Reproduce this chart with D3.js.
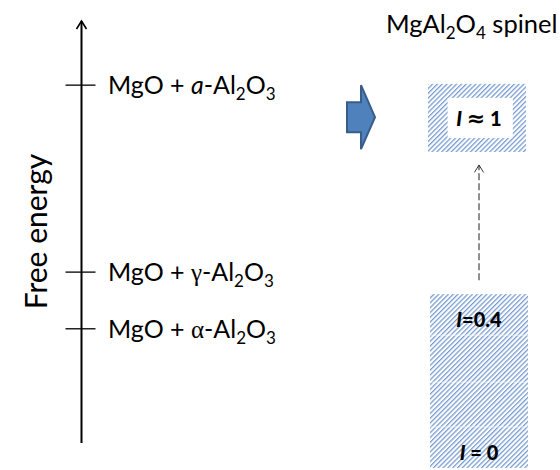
<!DOCTYPE html>
<html><head><meta charset="utf-8">
<script src="https://cdn.jsdelivr.net/npm/d3@7"></script>
<style>body{margin:0;background:#fff} text{font-family:Lato,'Open Sans',sans-serif;fill:#000}</style>
</head><body><svg id="c" width="560" height="470"></svg>
<script>
// ---- data ----
const axisTitle = "Free energy";
const levelPrefix = ["MgO + ", "MgO + ", "MgO + "];
const levelGreek = ["a", "γ", "α"];
const levelGreekItalic = [true, false, false];
const levelEnergy = [84.6, 40.4, 27.0];          // relative free energy of each phase mix
const spinelTitle = ["MgAl", "2", "O", "4", " spinel"];
const spinelLowBounds = [35.2, 25.5, 14.4, 3.8, -5.9]; // stacked segments of the low-inversion band
const spinelHighOuter = [84.9, 68.8];             // I ≈ 1 band
const spinelHighInner = [81.6, 72.1];
const inversionLabels = ["I=0.4", "I = 0", "I ≈ 1"];
const inversionEnergy = [29.3, -2.1, 76.8];
const transitionFrom = 38.5, transitionTo = 65.7;

// ---- scales ----
const svg = d3.select("#c");
const y = d3.scaleLinear().domain([0, 100]).range([443, 20]);
const x = d3.scaleLinear().domain([0, 1]).range([430, 528]); // spinel column
const axisX = 81.5;

const defs = svg.append("defs");
const pat = defs.append("pattern").attr("id", "hatch").attr("patternUnits", "userSpaceOnUse")
  .attr("width", 3.4).attr("height", 10).attr("patternTransform", "rotate(45)");
pat.append("line").attr("x1", 1.5).attr("x2", 1.5).attr("y1", 0).attr("y2", 10)
  .attr("stroke", "#6d95cd").attr("stroke-width", 1.2);
defs.append("marker").attr("id", "openArrow").attr("viewBox", "0 0 12 12").attr("refX", 10).attr("refY", 6)
  .attr("markerWidth", 12).attr("markerHeight", 12).attr("markerUnits", "userSpaceOnUse").attr("orient", "auto")
  .append("path").attr("d", "M2,1 L10,6 L2,11").attr("fill", "none").attr("stroke", "#000").attr("stroke-width", 1.6);
defs.append("marker").attr("id", "openArrowS").attr("viewBox", "0 0 12 12").attr("refX", 10).attr("refY", 6)
  .attr("markerWidth", 11).attr("markerHeight", 11).attr("markerUnits", "userSpaceOnUse").attr("orient", "auto")
  .append("path").attr("d", "M2,1 L10,6 L2,11").attr("fill", "none").attr("stroke", "#222").attr("stroke-width", 1);

// ---- energy axis ----
svg.append("line").attr("x1", axisX).attr("x2", axisX).attr("y1", y(0)).attr("y2", y(100) + 1)
  .attr("stroke", "#000").attr("stroke-width", 2).attr("marker-end", "url(#openArrow)");
svg.append("text").attr("transform", `translate(35,${y(50)}) rotate(-90)`)
  .attr("text-anchor", "middle").attr("dominant-baseline", "central")
  .style("font-size", "30px").text(axisTitle);

const lv = svg.append("g").selectAll("g").data(levelEnergy).join("g");
lv.append("line").attr("x1", axisX - 16).attr("x2", axisX + 14)
  .attr("y1", d => y(d)).attr("y2", d => y(d)).attr("stroke", "#000").attr("stroke-width", 1.3);
const lt = lv.append("text").attr("x", 108).attr("y", d => y(d) + 9).style("font-size", "25px");
lt.each(function(d, i) {
  const t = d3.select(this);
  t.append("tspan").text(levelPrefix[i]);
  const g = t.append("tspan").text(levelGreek[i]);
  if (levelGreekItalic[i]) g.style("font-style", "italic");
  else g.style("font-family", "'Liberation Serif','DejaVu Serif',serif");
  t.append("tspan").text("-Al");
  t.append("tspan").attr("dy", 6).style("font-size", "17px").text("2");
  t.append("tspan").attr("dy", -6).text("O");
  t.append("tspan").attr("dy", 6).style("font-size", "17px").text("3");
});

// ---- block arrow ----
const ac = y(inversionEnergy[2]) - 1;
svg.append("path")
  .attr("d", `M347,${ac - 15} L361,${ac - 15} L361,${ac - 32} L375,${ac} L361,${ac + 32} L361,${ac + 15} L347,${ac + 15} Z`)
  .attr("fill", "#4f81bd").attr("stroke", "#385d8a").attr("stroke-width", 2);

// ---- spinel column ----
const title = svg.append("text").attr("x", 386).attr("y", 33).style("font-size", "25.5px");
title.append("tspan").text(spinelTitle[0]);
title.append("tspan").attr("dy", 6).style("font-size", "17px").text(spinelTitle[1]);
title.append("tspan").attr("dy", -6).text(spinelTitle[2]);
title.append("tspan").attr("dy", 6).style("font-size", "17px").text(spinelTitle[3]);
title.append("tspan").attr("dy", -6).text(spinelTitle[4]);

// low-inversion stacked band
const segs = d3.pairs(spinelLowBounds);
svg.append("g").selectAll("rect").data(segs).join("rect")
  .attr("x", x(0)).attr("width", x(1) - x(0))
  .attr("y", d => y(d[0])).attr("height", d => y(d[1]) - y(d[0]))
  .attr("fill", "url(#hatch)");
svg.append("g").selectAll("line").data(spinelLowBounds.slice(1, -1)).join("line")
  .attr("x1", x(0)).attr("x2", x(1)).attr("y1", d => y(d)).attr("y2", d => y(d))
  .attr("stroke", "#fff").attr("stroke-opacity", 0.6).attr("stroke-width", 1);

// high-inversion frame
svg.append("rect").attr("x", x(0) - 2).attr("width", x(1) - x(0))
  .attr("y", y(spinelHighOuter[0])).attr("height", y(spinelHighOuter[1]) - y(spinelHighOuter[0]))
  .attr("fill", "url(#hatch)");
svg.append("rect").attr("x", x(0.18)).attr("width", x(0.845) - x(0.18))
  .attr("y", y(spinelHighInner[0])).attr("height", y(spinelHighInner[1]) - y(spinelHighInner[0]))
  .attr("fill", "#fff");

// transition arrow
svg.append("line").attr("x1", x(0.5)).attr("x2", x(0.5))
  .attr("y1", y(transitionFrom)).attr("y2", y(transitionTo))
  .attr("stroke", "#333").attr("stroke-width", 1.1).attr("stroke-dasharray", "7,3")
  .attr("marker-end", "url(#openArrowS)");

// inversion labels
const il = svg.append("g").selectAll("text").data(inversionLabels).join("text")
  .attr("x", x(0.5)).attr("y", (d, i) => y(inversionEnergy[i]))
  .attr("text-anchor", "middle").attr("dominant-baseline", "central")
  .style("font-size", "20px").style("font-weight", "900");
il.each(function(d) {
  const t = d3.select(this);
  t.append("tspan").style("font-style", "italic").text(d[0]);
  const rest = d.slice(1);
  if (rest.includes("≈")) {
    t.append("tspan").text(" ");
    t.append("tspan").style("font-family", "'DejaVu Sans',sans-serif").style("font-size", "22px").text("≈");
    t.append("tspan").text(rest.split("≈")[1]);
  } else t.append("tspan").text(rest);
});
</script></body></html>
